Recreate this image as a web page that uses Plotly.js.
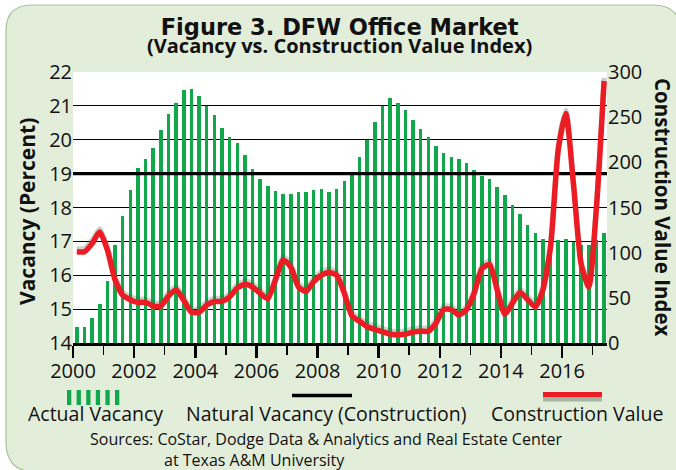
<!DOCTYPE html>
<html>
<head>
<meta charset="utf-8">
<script src="https://cdn.plot.ly/plotly-3.0.1.min.js"></script>
<style>
  html, body { margin: 0; padding: 0; background: #ffffff; }
  #chart { width: 676px; height: 470px; }
</style>
</head>
<body>
<div id="chart"></div>
<script>
// ---------------- DATA ----------------
const startYear = 2000;            // first quarter = 2000 Q1
const yearTicks = [2000, 2002, 2004, 2006, 2008, 2010, 2012, 2014, 2016];

// Actual vacancy (percent), quarterly 2000 Q1 – 2017 Q2
const vacancy = [
  14.48, 14.48, 14.73, 15.14,
  15.83, 16.89, 17.75, 18.51,
  19.18, 19.43, 19.77, 20.28,
  20.75, 21.09, 21.46, 21.49,
  21.29, 20.99, 20.72, 20.36,
  20.09, 19.90, 19.55, 19.15,
  18.84, 18.64, 18.48, 18.40,
  18.40, 18.45, 18.45, 18.51,
  18.54, 18.45, 18.54, 18.77,
  18.98, 19.49, 19.99, 20.53,
  20.99, 21.22, 21.09, 20.87,
  20.58, 20.33, 20.08, 19.81,
  19.61, 19.49, 19.43, 19.30,
  19.12, 18.94, 18.84, 18.61,
  18.37, 18.07, 17.80, 17.48,
  17.24, 17.07, 17.05, 17.04,
  17.07, 16.99, 16.90, 16.89,
  17.04, 17.24
];

// Construction value index, quarterly 2000 Q1 – 2017 Q2
const constructionValue = [
  101, 101, 110, 123,
  103, 70, 53, 48,
  45, 45, 41, 41,
  52, 59, 47, 34,
  34, 42, 46, 46,
  51, 61, 65, 62,
  55, 49, 70, 92,
  84, 62, 57, 68,
  75, 78, 75, 55,
  30, 24, 18, 15,
  12.5, 10, 9, 10,
  12, 13, 13, 22,
  37, 37, 31, 37,
  55, 82, 87, 59,
  32, 44, 56, 48,
  40, 59, 107, 214,
  254, 175, 87, 62,
  150, 290
];

// Natural vacancy (construction) level, percent
const naturalVacancy = 19;

// ---------------- LAYOUT HELPERS ----------------
const W = 676, H = 470;
const PL = 73, PR = 607, PT = 72, PB = 343;
const xRange = [2000, 2017.47];
const px2x = p => (p - PL) / (PR - PL);
const px2y = p => (PB - p) / (PB - PT);
const P = (x, y) => `${px2x(x).toFixed(4)},${px2y(y).toFixed(4)}`;

const quarterX = vacancy.map((_, i) => startYear + (i + 0.5) / 4);

const green = '#10a84b';
const red = '#ec1c24';
const txt = '#111111';
const FONT = '"Open Sans", "DejaVu Sans", sans-serif';

// ---------------- TRACES ----------------
const traces = [
  {
    type: 'bar', x: quarterX, y: vacancy, width: 0.115,
    marker: { color: green, line: { width: 0 } },
    xaxis: 'x', yaxis: 'y', hoverinfo: 'skip', showlegend: false
  },
  {
    type: 'scatter', mode: 'lines', x: xRange, y: [naturalVacancy, naturalVacancy],
    line: { color: '#000000', width: 3.2 },
    xaxis: 'x', yaxis: 'y', hoverinfo: 'skip', showlegend: false, cliponaxis: false
  },
  { // soft shadow of the construction value line (same data on a slightly shifted axis)
    type: 'scatter', mode: 'lines', x: quarterX, y: constructionValue,
    line: { color: 'rgba(70,90,70,0.28)', width: 5, shape: 'spline', smoothing: 0.6 },
    xaxis: 'x', yaxis: 'y2', hoverinfo: 'skip', showlegend: false
  },
  {
    type: 'scatter', mode: 'lines', x: quarterX, y: constructionValue,
    line: { color: red, width: 5.5, shape: 'spline', smoothing: 0.6 },
    xaxis: 'x', yaxis: 'y3', hoverinfo: 'skip', showlegend: false
  }
];

// ---------------- SHAPES ----------------
const r1 = 26, r2 = 30, r3 = 28;
const L = 6, T = 5, R = 681, B = 472;
const boxPath =
  `M ${P(L, T + r1)} Q ${P(L, T)} ${P(L + r1, T)} L ${P(R - r3, T)} Q ${P(R, T)} ${P(R, T + r3)} ` +
  `L ${P(R, B)} L ${P(L + r2, B)} Q ${P(L, B)} ${P(L, B - r2)} Z`;

const shapes = [
  { type: 'path', xref: 'paper', yref: 'paper', path: boxPath, layer: 'below',
    fillcolor: '#e3eeda', line: { color: '#a8c398', width: 1.2 } },
  { type: 'rect', xref: 'paper', yref: 'paper', x0: 0, x1: 1, y0: 0, y1: 1, layer: 'below',
    fillcolor: '#ffffff', line: { width: 0 } }
];
// legend symbols
for (let i = 0; i < 6; i++) {
  const x0 = 67 + i * 9.6;
  shapes.push({ type: 'rect', xref: 'paper', yref: 'paper',
    x0: px2x(x0), x1: px2x(x0 + 4.3), y0: px2y(405), y1: px2y(390),
    fillcolor: green, line: { width: 0 } });
}
shapes.push({ type: 'line', xref: 'paper', yref: 'paper',
  x0: px2x(292), x1: px2x(352), y0: px2y(395.5), y1: px2y(395.5),
  line: { color: '#000', width: 3.5 } });
shapes.push({ type: 'line', xref: 'paper', yref: 'paper',
  x0: px2x(543), x1: px2x(602), y0: px2y(399), y1: px2y(399),
  line: { color: 'rgba(90,110,90,0.45)', width: 5 } });
shapes.push({ type: 'line', xref: 'paper', yref: 'paper',
  x0: px2x(543), x1: px2x(602), y0: px2y(394.5), y1: px2y(394.5),
  line: { color: red, width: 5 } });

// ---------------- ANNOTATIONS ----------------
const ann = (text, x, y, size, opts = {}) => Object.assign({
  text, xref: 'paper', yref: 'paper', x: px2x(x), y: px2y(y),
  xanchor: 'center', yanchor: 'middle', showarrow: false,
  font: { family: FONT, size, color: txt }
}, opts);

const titleText =
  '<span style="font-family:DejaVu Sans;font-size:22.5px"><b>Figure 3. DFW Office Market</b></span><br>' +
  '<span style="font-size:20px"><b>(Vacancy vs. Construction Value Index)</b></span>';

const annotations = [
  ann(titleText, 339, 37, 13.5),
  ann('<b>Vacancy (Percent)</b>', 27, 212, 21, { textangle: -90 }),
  ann('<b>Construction Value Index</b>', 663, 207, 20.5, { textangle: 90 }),
  ann('Actual Vacancy', 95, 413, 19.5),
  ann('Natural Vacancy (Construction)', 326, 413, 19.5),
  ann('Construction Value', 577, 413, 19.5),
  ann('Sources: CoStar, Dodge Data &amp; Analytics and Real Estate Center', 88, 439, 16, { xanchor: 'left' }),
  ann('at Texas A&amp;M University', 162, 459.5, 16, { xanchor: 'left' })
];

// ---------------- LAYOUT ----------------
const tickFont = { family: FONT, size: 20, color: txt };
const layout = {
  width: W, height: H,
  margin: { l: PL, r: W - PR, t: PT, b: H - PB, pad: 0 },
  paper_bgcolor: '#ffffff',
  plot_bgcolor: 'rgba(0,0,0,0)',
  showlegend: false,
  bargap: 0,
  xaxis: {
    range: xRange, tickvals: yearTicks, ticktext: yearTicks.map(String),
    showgrid: false, zeroline: false,
    showline: true, linecolor: '#000', linewidth: 3,
    ticks: 'outside', ticklen: 12, tickwidth: 2.5, tickcolor: '#000',
    minor: { tick0: 2001, dtick: 1, ticks: 'outside', ticklen: 9, tickwidth: 1.5, tickcolor: '#000', showgrid: false },
    ticklabelstandoff: -4,
    tickfont: tickFont, fixedrange: true
  },
  yaxis: {
    range: [14, 22], dtick: 1, tick0: 14,
    showgrid: true, gridcolor: '#000', gridwidth: 1.1,
    zeroline: false, showline: false, ticks: '',
    tickfont: tickFont, fixedrange: true
  },
  yaxis2: {
    overlaying: 'y', side: 'right',
    range: [-3.6, 296.4], visible: false, showgrid: false, fixedrange: true
  },
  yaxis3: {
    overlaying: 'y', side: 'right',
    range: [0, 300], dtick: 50, tick0: 0,
    showgrid: false, zeroline: false, showline: false, ticks: '',
    tickfont: tickFont, fixedrange: true
  },
  shapes, annotations
};

Plotly.newPlot('chart', traces, layout, { staticPlot: true, displayModeBar: false });
</script>
</body>
</html>
